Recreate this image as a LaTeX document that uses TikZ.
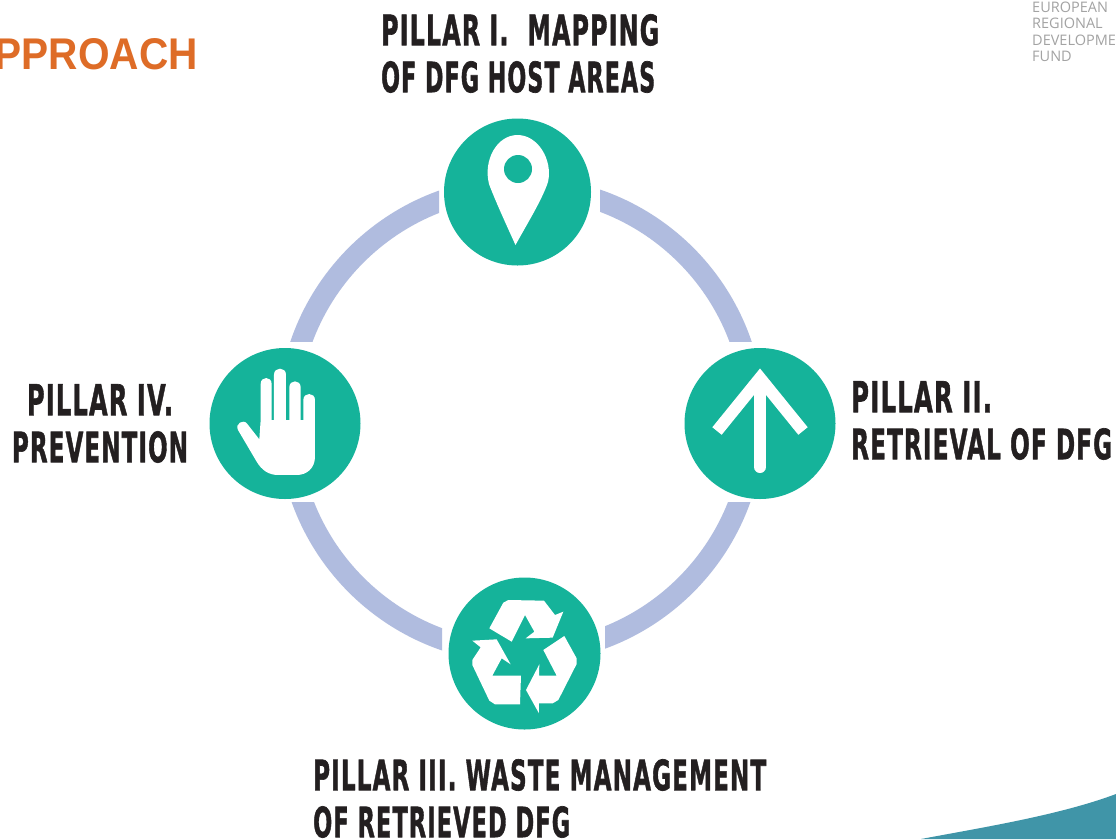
\documentclass[tikz,border=0pt]{standalone}
\usepackage{fontspec}
\usepackage{graphicx}
\setmainfont{Liberation Sans}
\newfontfamily\pillarfont[FakeBold=1.6,LetterSpace=5]{DejaVu Sans Bold}
\newfontfamily\eufont{Open Sans}
\newcommand{\fitline}[2]{\resizebox{#1pt}{31pt}{\pillarfont #2}}
\definecolor{tealc}{HTML}{15B39A}
\definecolor{ringc}{HTML}{B0BCDF}
\definecolor{inkc}{HTML}{231F20}
\definecolor{titlec}{HTML}{DE6C27}
\definecolor{waveC}{HTML}{4095A8}
\definecolor{eugray}{HTML}{A3A3A3}
\tikzset{
  iconcircle/.style={circle,fill=tealc,inner sep=0pt,minimum size=#1},
  ringarc/.style={draw=ringc,line width=21pt},
  pillarlabel/.style={inner sep=0pt,text=inkc,font=\fontsize{30}{47}\selectfont},
  iconfill/.style={fill=white,draw=none},
  iconstroke/.style={draw=white,line cap=round,line join=miter}
}
\begin{document}
\begin{tikzpicture}[x=1pt,y=-1pt]
\useasboundingbox (0,0) rectangle (1116,839);
\fill[white] (0,0) rectangle (1116,839);
% wave
\fill[waveC] (921,839) .. controls (985,827) and (1060,815) .. (1116,794) -- (1116,839) -- cycle;
% ring guide coordinates
\coordinate (ringT) at (521,187);
\coordinate (ringR) at (754,420);
\coordinate (ringB) at (521,653);
\coordinate (ringL) at (288,420);
\begin{scope}
  \clip (600,150) rectangle (800,341);
  \draw[ringarc] (ringT) to[out=0,in=90] (ringR);
\end{scope}
\begin{scope}
  \clip (605,502) rectangle (800,700);
  \draw[ringarc] (ringR) to[out=-90,in=0] (ringB);
\end{scope}
\begin{scope}
  \clip (250,502) rectangle (442,700);
  \draw[ringarc] (ringB) to[out=180,in=-90] (ringL);
\end{scope}
\begin{scope}
  \clip (250,150) rectangle (439,341);
  \draw[ringarc] (ringL) to[out=90,in=180] (ringT);
\end{scope}
% circles
\node[iconcircle=147pt] (top) at (517.5,192) {};
\node[iconcircle=151pt] (right) at (760,423.5) {};
\node[iconcircle=152pt] (bottom) at (524.5,653.5) {};
\node[iconcircle=151pt] (left) at (285,423.5) {};
% pin
\fill[iconfill] (515.5,245) .. controls (505,222) and (495,200) .. (489,184)
  .. controls (483,160) and (497,135) .. (517.5,135)
  .. controls (538,135) and (553,160) .. (548,182)
  .. controls (542,200) and (527,224) .. (515.5,245) -- cycle;
\fill[tealc] (518,169) circle (14);
% arrow
\draw[iconstroke,line width=12pt] (760,379) -- (760,467);
\draw[iconstroke,line width=12pt,line cap=butt] (717,431) -- (760,378) -- (803,431);
% hand
\begin{scope}[shift={(200,340)},x=0.3333pt,y=-0.3333pt]
\fill[iconfill] (182,240) -- (182,132) .. controls (182,108) and (215,108) .. (215,132) -- (215,240)
 -- (222,240) -- (222,104) .. controls (222,80) and (258,80) .. (258,104) -- (258,240)
 -- (268,240) -- (268,142) .. controls (268,118) and (302,118) .. (302,142) -- (302,240)
 -- (310,240) -- (310,180) .. controls (310,156) and (345,156) .. (345,180) -- (345,350)
 .. controls (345,385) and (320,405) .. (290,405) -- (235,405)
 .. controls (205,405) and (185,390) .. (170,365)
 -- (114,270) .. controls (104,252) and (130,235) .. (142,252) -- (178,298) -- cycle;
\end{scope}
% recycle
\begin{scope}[shift={(440,570)},x=0.3333pt,y=-0.3333pt]
\fill[iconfill] (148,175) -- (190,98) -- (205,90) -- (312,92) -- (345,135) -- (370,125) -- (338,203) -- (257,205) -- (283,185) -- (255,135) -- (215,215) -- cycle;
\fill[iconfill] (97,212) -- (170,208) -- (212,283) -- (185,265) -- (157,317) -- (243,317) -- (240,403) -- (165,403) -- (148,392) -- (97,285) -- (97,270) -- (122,232) -- cycle;
\fill[iconfill] (310,240) -- (373,198) -- (410,265) -- (410,282) -- (355,390) -- (338,400) -- (297,400) -- (297,430) -- (258,360) -- (298,283) -- (297,317) -- (350,317) -- cycle;
\end{scope}
% labels
\node[pillarlabel,anchor=north west,align=left] (labelT) at (381,14)
  {\fitline{278}{PILLAR I.\ \ MAPPING}\\\fitline{274}{OF DFG HOST AREAS}};
\node[pillarlabel,anchor=north west,align=left] (labelR) at (851,381)
  {\fitline{141}{PILLAR II.}\\\fitline{261}{RETRIEVAL OF DFG}};
\node[pillarlabel,anchor=north,align=center] (labelL) at (100,384)
  {\fitline{146}{PILLAR IV.}\\\fitline{176}{PREVENTION}};
\node[pillarlabel,anchor=north west,align=left] (labelB) at (313,759)
  {\fitline{453}{PILLAR III. WASTE MANAGEMENT}\\\fitline{257}{OF RETRIEVED DFG}};
% title
\node[anchor=north east,inner sep=0pt,text=titlec] (title) at (198,38)
  {\resizebox{203pt}{31pt}{\bfseries PPROACH}};
% EU text
\node[anchor=north west,inner sep=0pt,text=eugray,align=left,font=\eufont\fontsize{14.5}{16.5}\selectfont] (eu) at (1032,1.5)
  {EUROPEAN\\REGIONAL\\DEVELOPME\\FUND};
\end{tikzpicture}
\end{document}
